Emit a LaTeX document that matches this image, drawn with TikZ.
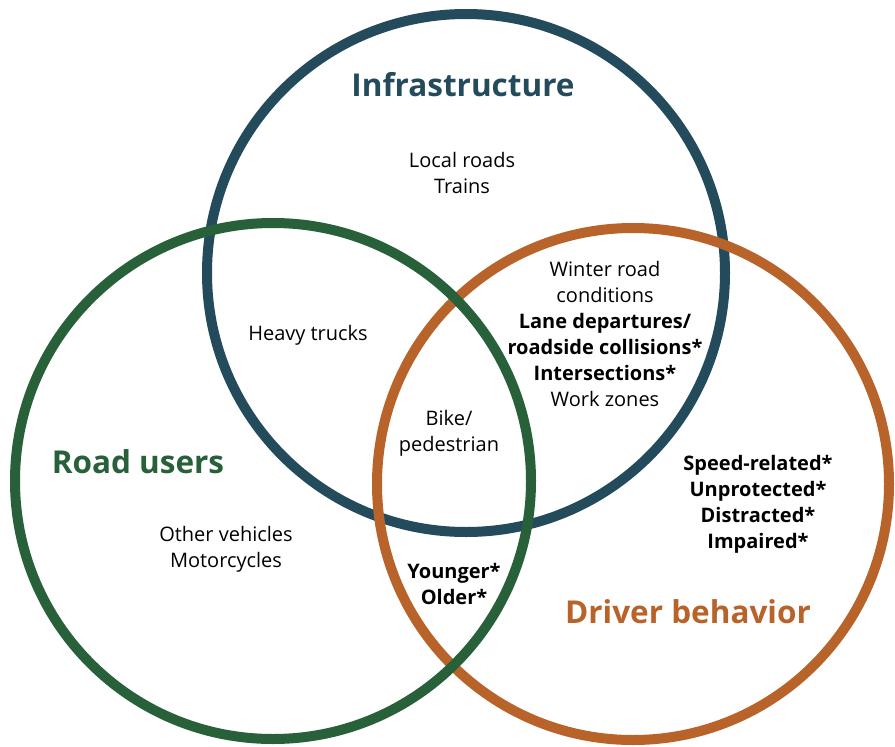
\documentclass[tikz,border=0pt]{standalone}
\usepackage{fontspec}
\setmainfont{Open Sans}
\usepackage{color}

\definecolor{infra}{HTML}{244B5C}
\definecolor{users}{HTML}{28603A}
\definecolor{driver}{HTML}{B8632A}

\begin{document}
\begin{tikzpicture}[x=1pt,y=-1pt,
    ring/.style={line width=10pt},
    title/.style={font=\fontsize{31.5}{34}\selectfont\bfseries},
    item/.style={align=center,font=\fontsize{20}{26}\selectfont}]
              \useasboundingbox (0,0) rectangle (895,747);
              \draw[ring,infra] (466,273) circle [radius=259];
              \draw[ring,driver] (633,484) circle [radius=256];
              \draw[ring,users] (273,481) circle [radius=258];
              \node[title,text=infra] (infratitle) at (463,85) {Infrastructure};
              \node[title,text=users] (userstitle) at (138,462) {Road users};
              \node[title,text=driver] (drivertitle) at (688,612) {Driver behavior};
              \node[item] (local) at (462,173) {Local roads\\Trains};
              \node[item] (trucks) at (308,335) {Heavy trucks};
              \node[item] (winter) at (605,334) {Winter road\\conditions\\\textbf{Lane departures/}\\\textbf{roadside collisions*}\\\textbf{Intersections*}\\Work zones};
              \node[item] (bike) at (449,433) {Bike/\\pedestrian};
              \node[item] (other) at (226,549) {Other vehicles\\Motorcycles};
              \node[item,font=\fontsize{20}{26}\selectfont\bfseries] (age) at (454,584) {Younger*\\Older*};
              \node[item,font=\fontsize{20}{26}\selectfont\bfseries] (behave) at (758,504) {Speed-related*\\Unprotected*\\Distracted*\\Impaired*};
            \end{tikzpicture}
\end{document}
